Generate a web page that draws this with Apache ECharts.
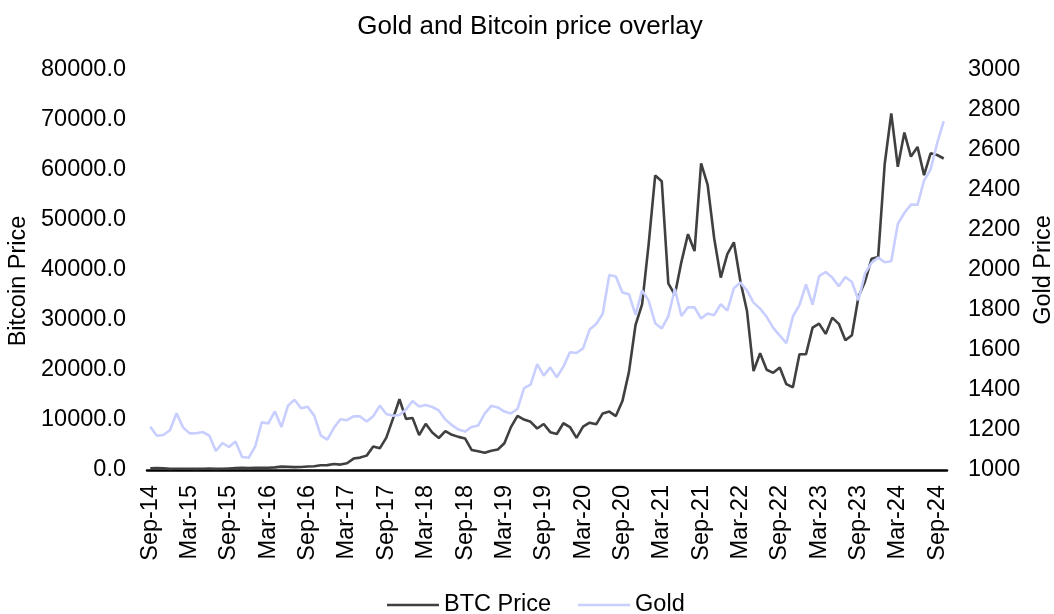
<!DOCTYPE html>
<html>
<head>
<meta charset="utf-8">
<script src="https://cdn.jsdelivr.net/npm/echarts@6/dist/echarts.min.js"></script>
<style>
html,body{margin:0;padding:0;background:#fff;}
#chart{width:1054px;height:614px;}
</style>
</head>
<body>
<div id="chart"></div>
<script>
// Monthly categories Sep-14 .. Oct-24
const monthNames = ['Jan','Feb','Mar','Apr','May','Jun','Jul','Aug','Sep','Oct','Nov','Dec'];
const categories = [];
for (let y = 2014, m = 8; categories.length < 122; m++) {
  if (m === 12) { m = 0; y++; }
  categories.push(monthNames[m] + '-' + String(y).slice(2));
}

const btcPrice = [
  338, 378, 320, 217, 254, 244, 236, 230, 263, 284, 230, 236,
  314, 377, 430, 368, 437, 416, 448, 531, 673, 624, 573, 609,
  698, 742, 963, 970, 1190, 1080, 1348, 2286, 2480, 2875, 4703, 4338,
  6468, 10233, 14156, 10221, 10397, 6973, 9240, 7494, 6404, 7780, 7037, 6625,
  6318, 4017, 3742, 3457, 3854, 4105, 5350, 8574, 10817, 10085, 9630, 8293,
  9199, 7569, 7194, 9350, 8599, 6438, 8658, 9461, 9137, 11323, 11680, 10784,
  13781, 19625, 29001, 33114, 45137, 58918, 57750, 37332, 35041, 41626, 47166, 43790,
  61318, 57005, 46306, 38483, 43194, 45538, 37714, 31792, 19785, 23337, 20050, 19432,
  20495, 17168, 16548, 23139, 23147, 28478, 29268, 27219, 30477, 29230, 25932, 26968,
  34668, 37713, 42265, 42582, 61198, 71333, 60636, 67491, 62678, 64619, 58969, 63329,
  63000, 62300
];

const goldPrice = [
  1216, 1171, 1175, 1199, 1284, 1213, 1183, 1184, 1190, 1172, 1095, 1135,
  1115, 1142, 1065, 1061, 1118, 1238, 1233, 1293, 1215, 1322, 1351, 1309,
  1316, 1272, 1173, 1152, 1211, 1254, 1249, 1268, 1268, 1242, 1269, 1322,
  1280, 1271, 1275, 1303, 1345, 1318, 1325, 1315, 1298, 1253, 1224, 1202,
  1192, 1215, 1222, 1282, 1321, 1313, 1292, 1283, 1305, 1409, 1427, 1529,
  1472, 1513, 1464, 1517, 1589, 1585, 1608, 1702, 1730, 1781, 1975, 1968,
  1887, 1879, 1776, 1898, 1847, 1734, 1708, 1768, 1906, 1770, 1814, 1813,
  1757, 1783, 1774, 1829, 1797, 1909, 1937, 1897, 1837, 1807, 1766, 1711,
  1672, 1634, 1768, 1824, 1928, 1827, 1969, 1990, 1962, 1919, 1965, 1940,
  1849, 1983, 2036, 2062, 2039, 2044, 2230, 2286, 2327, 2326, 2447, 2503,
  2634, 2744
];

const FONT = '"Liberation Sans", Arial, Helvetica, sans-serif';
const FS = 23.5;
const chart = echarts.init(document.getElementById('chart'), null, {renderer: 'canvas'});
chart.setOption({
  animation: false,
  backgroundColor: '#ffffff',
  title: {
    text: 'Gold and Bitcoin price overlay',
    left: 525, top: 9, textAlign: 'center',
    textStyle: {fontFamily: FONT, fontSize: 26, fontWeight: 'normal', color: '#000'}
  },
  legend: {
    left: 382, top: 588,
    icon: 'rect',
    itemWidth: 52, itemHeight: 2.5, itemGap: 27,
    textStyle: {fontFamily: FONT, fontSize: FS, color: '#000'},
    data: ['BTC Price', 'Gold']
  },
  grid: {left: 147, right: 107, top: 70, bottom: 144, containLabel: false, outerBoundsMode: 'none'},
  xAxis: {
    type: 'category',
    data: categories,
    boundaryGap: true,
    axisLine: {show: true, lineStyle: {color: '#000', width: 2.5}},
    axisTick: {show: false},
    axisLabel: {interval: 5, rotate: 90, margin: 15, fontFamily: FONT, fontSize: FS, color: '#000'},
    splitLine: {show: false}
  },
  yAxis: [
    {
      type: 'value', min: 0, max: 80000, interval: 10000,
      name: 'Bitcoin Price', nameLocation: 'middle', nameGap: 116, nameRotate: 90,
      nameTextStyle: {fontFamily: FONT, fontSize: FS, color: '#000', padding: [0, 22, 0, 0]},
      axisLine: {show: false}, axisTick: {show: false}, splitLine: {show: false},
      axisLabel: {margin: 21, fontFamily: FONT, fontSize: FS, color: '#000', formatter: v => v.toFixed(1)}
    },
    {
      type: 'value', min: 1000, max: 3000, interval: 200, position: 'right',
      name: 'Gold Price', nameLocation: 'middle', nameGap: 85, nameRotate: 90,
      nameTextStyle: {fontFamily: FONT, fontSize: FS, color: '#000'},
      axisLine: {show: false}, axisTick: {show: false}, splitLine: {show: false},
      axisLabel: {margin: 21, fontFamily: FONT, fontSize: FS, color: '#000', formatter: v => String(v)}
    }
  ],
  series: [
    {
      name: 'BTC Price', type: 'line', yAxisIndex: 0, data: btcPrice,
      symbol: 'none', showSymbol: false,
      lineStyle: {color: '#404040', width: 2.6}, itemStyle: {color: '#404040'}
    },
    {
      name: 'Gold', type: 'line', yAxisIndex: 1, data: goldPrice,
      symbol: 'none', showSymbol: false,
      lineStyle: {color: '#c8cfff', width: 2.6}, itemStyle: {color: '#c8cfff'}
    }
  ]
});
</script>
</body>
</html>
